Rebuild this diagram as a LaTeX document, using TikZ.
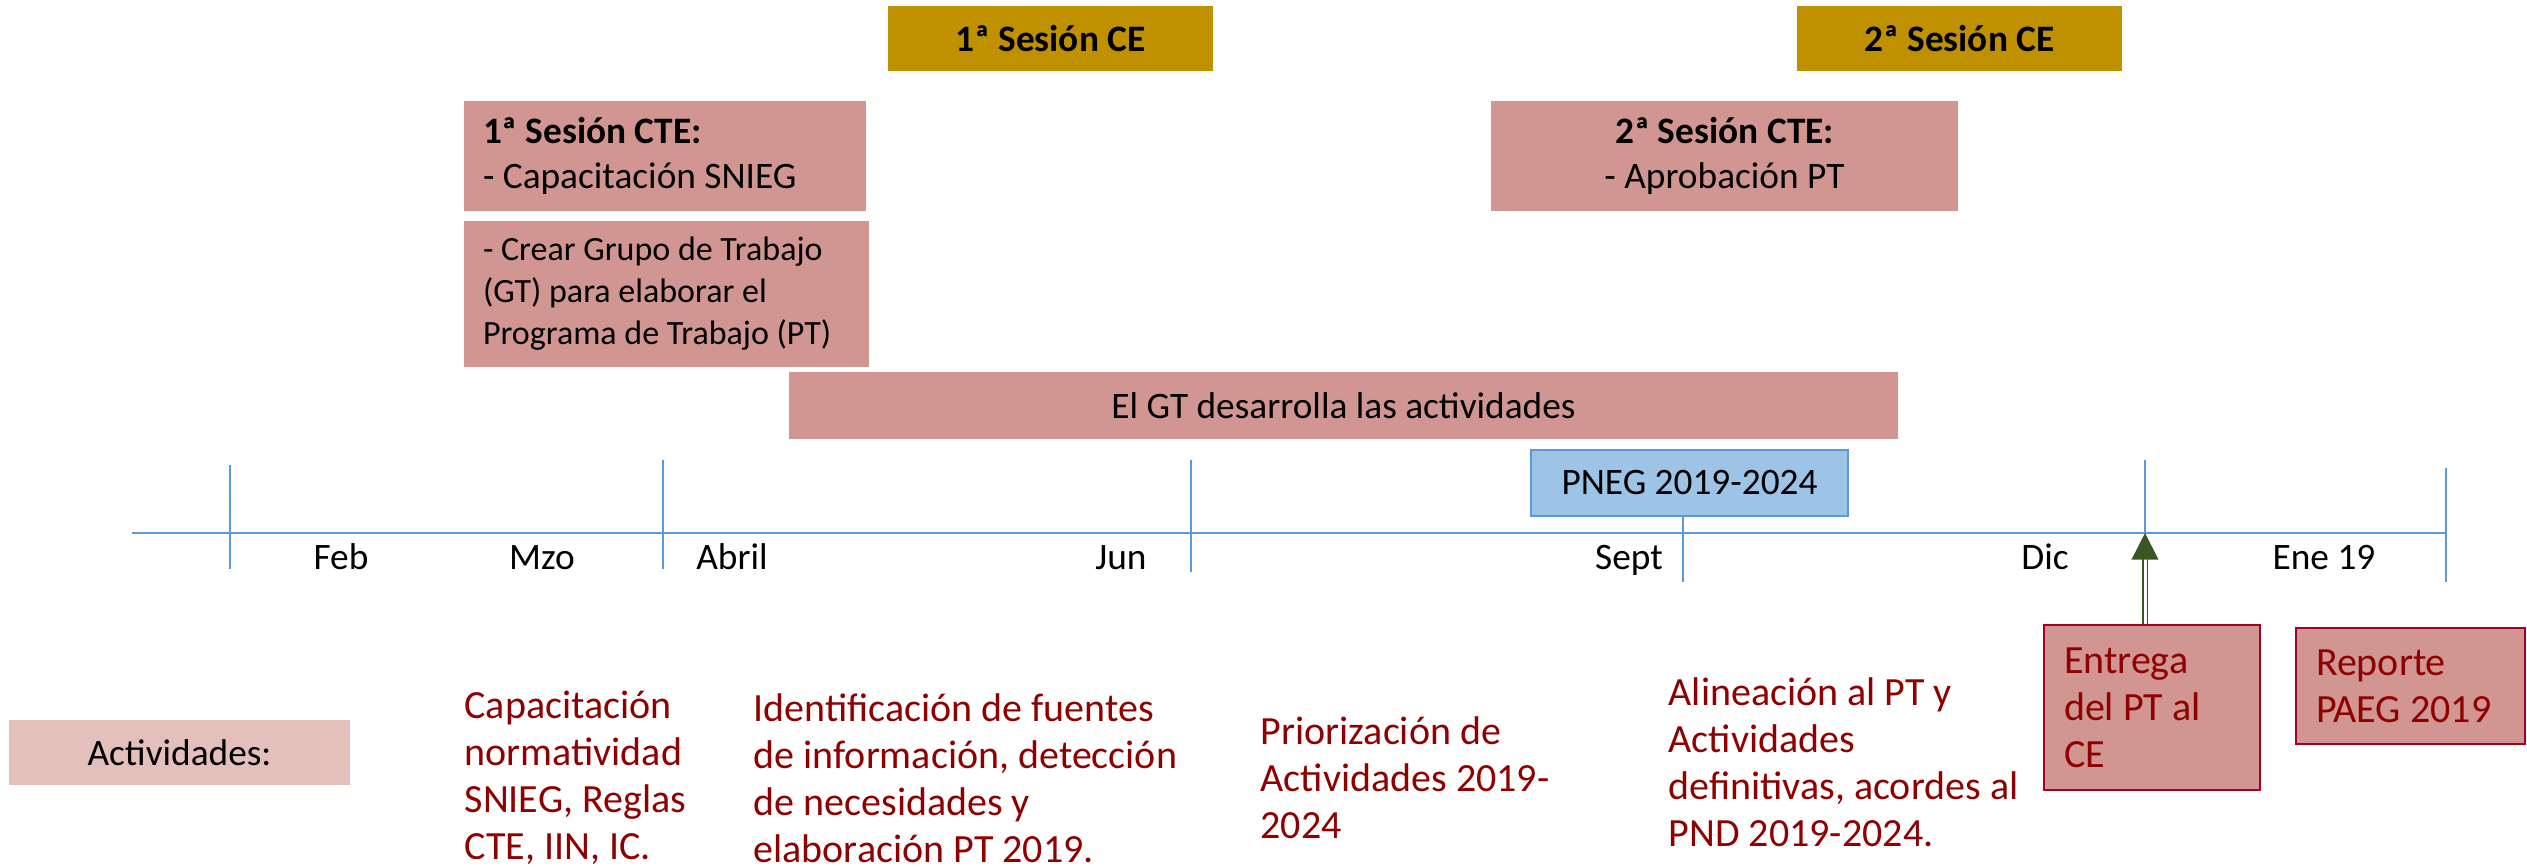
\documentclass[tikz,border=0pt]{standalone}
\usepackage{fontspec}
\setmainfont{Carlito}
\usetikzlibrary{arrows.meta}
\definecolor{sessionColor}{HTML}{BF9000}
\definecolor{boxColor}{HTML}{D19691}
\definecolor{tagColor}{HTML}{E4C0BC}
\definecolor{actTextColor}{HTML}{8F0000}
\definecolor{deliverColor}{HTML}{A50021}
\definecolor{axisColor}{HTML}{5B9BD5}
\definecolor{planColor}{HTML}{9DC3E6}
\definecolor{arrowColor}{HTML}{385723}
\def\textCEa{1ª Sesión CE}
\def\textCEb{2ª Sesión CE}
\def\textCTEa{\textbf{1ª Sesión CTE:}\\- Capacitación SNIEG}
\def\textCTEb{\textbf{2ª Sesión CTE:}\\- Aprobación PT}
\def\textGT{- Crear Grupo de Trabajo\\(GT) para elaborar el\\Programa de Trabajo (PT)}

\begin{document}
\begin{tikzpicture}[x=0.3bp,y=-0.3bp,
  boxfont/.style={font=\fontsize{11.2bp}{13.5bp}\selectfont},
  session/.style={fill=sessionColor, inner sep=0pt, minimum width=97.5bp,
    minimum height=19.5bp, font=\fontsize{11.2bp}{13.5bp}\selectfont\bfseries},
  ctebox/.style={boxfont, fill=boxColor, inner xsep=5.7bp, inner ysep=0pt},
  acttext/.style={font=\fontsize{12bp}{14.1bp}\selectfont, text=actTextColor,
    align=flush left, anchor=west, inner sep=0pt},
  deliverbox/.style={acttext, anchor=center, fill=boxColor, draw=deliverColor,
    line width=0.7bp, inner xsep=6bp, inner ysep=0pt},
  month/.style={font=\fontsize{11.2bp}{13bp}\selectfont, anchor=base},
  tick/.style={draw=axisColor, line width=0.5bp}]

\useasboundingbox (0, 0) rectangle (2527, 868);

% sessions
\begin{scope}
\node[session] (ce1) at (1050.5, 38.5) {\textCEa};
\node[session] (ce2) at (1959.5, 38.5) {\textCEb};
\node[ctebox, text width=109.2bp, minimum height=33bp, align=flush left]
  (cte1) at (665, 156) {\textCTEa};
\node[ctebox, text width=110.1bp, minimum height=43.8bp, align=flush left,
  font=\fontsize{10.2bp}{12.6bp}\selectfont] (grupo) at (666.5, 294) {\textGT};
\node[ctebox, text width=128.7bp, minimum height=33bp, align=flush center]
  (cte2) at (1724.5, 156) {\textCTEb};
\node[ctebox, minimum width=332.7bp, minimum height=20.1bp]
  (desarrollo) at (1343.5, 405.5) {El GT desarrolla las actividades};
\node[boxfont, fill=planColor, draw=axisColor, line width=0.6bp, inner sep=0pt,
  minimum width=95.1bp, minimum height=19.8bp] (pneg) at (1689.5, 483) {PNEG 2019-2024};
\end{scope}

% axis layer
\begin{scope}
\coordinate (axisStart) at (132, 533);
\coordinate (axisEnd) at (2446, 533);
\coordinate (dic) at (2145, 533);
\draw[draw=axisColor, line width=0.6bp] (axisStart) -- (axisEnd);
\draw[tick] (230, 465) -- (230, 569);
\draw[tick] (663, 460) -- (663, 569);
\draw[tick] (1191, 460) -- (1191, 572);
\draw[tick] (pneg.south -| 1683, 0) -- (1683, 582);
\draw[tick] (2145, 460) -- (dic);
\draw[tick] (2446, 468) -- (2446, 582);
\node[month] (feb) at (341, 570) {Feb};
\node[month] (mzo) at (542, 570) {Mzo};
\node[month] (abril) at (732, 570) {Abril};
\node[month] (jun) at (1121, 570) {Jun};
\node[month] (sept) at (1629, 570) {Sept};
\node[month] (dicLabel) at (2045, 570) {Dic};
\node[month] (ene) at (2324, 570) {Ene 19};
\end{scope}

% activities
\begin{scope}
\node[boxfont, fill=tagColor, inner sep=0pt, minimum width=102.3bp,
  minimum height=19.5bp] (actividades) at (179.5, 752.5) {Actividades:};
\node[acttext] (capacitacion) at (464, 778)
  {Capacitación\\normatividad\\SNIEG, Reglas\\CTE, IIN, IC.};
\node[acttext] (identificacion) at (753, 778)
  {Identificación de fuentes\\de información, detección\\de necesidades y\\elaboración PT 2019.};
\node[acttext] (priorizacion) at (1260, 778)
  {Priorización de\\Actividades 2019-\\2024};
\node[acttext] (alineacion) at (1668, 762.5)
  {Alineación al PT y\\Actividades\\definitivas, acordes al\\PND 2019-2024.};
\node[deliverbox, text width=52.8bp, minimum height=49.5bp]
  (entrega) at (2152, 707.5) {Entrega\\del PT al\\CE};
\node[deliverbox, text width=56.7bp, minimum height=34.8bp]
  (reporte) at (2410.5, 686) {Reporte\\PAEG 2019};
\end{scope}

% delivery arrow
\draw[arrowColor, line width=0.5bp, double=white, double distance=0.9bp,
  -{Triangle[width=8bp, length=8bp]}] (entrega.north -| dic) -- (dic);

\end{tikzpicture}
\end{document}
